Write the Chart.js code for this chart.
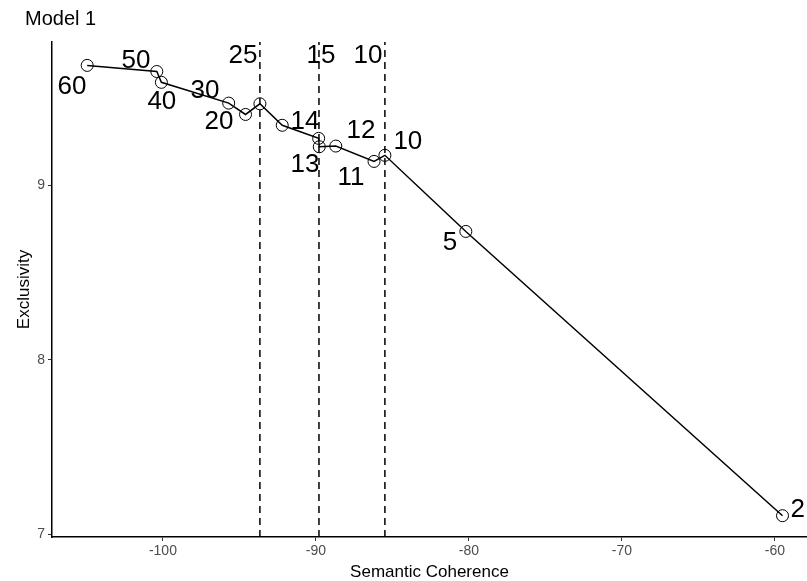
<!DOCTYPE html>
<html>
<head>
<meta charset="utf-8">
<script src="https://cdn.jsdelivr.net/npm/chart.js@4"></script>
<style>
  html, body { margin: 0; padding: 0; background: #fff; }
  #wrap { width: 807px; height: 581px; position: relative; }
</style>
</head>
<body>
<div id="wrap"><canvas id="c" width="807" height="581"></canvas></div>
<script>
// ---- data ----
const topicCounts = [60, 50, 40, 30, 20, 25, 14, 15, 13, 12, 11, 10, 5, 2];
const semanticCoherence = [-104.95, -100.4, -100.1, -95.7, -94.6, -93.66, -92.2, -89.82, -89.78, -88.7, -86.2, -85.49, -80.2, -59.5];
const exclusivity = [9.686, 9.651, 9.589, 9.47, 9.405, 9.466, 9.343, 9.268, 9.22, 9.224, 9.136, 9.171, 8.735, 7.107];

// labelled points and label anchor (data units)
const pointLabels = ['60', '50', '40', '30', '20', '14', '13', '12', '11', '10', '5', '2'];
const pointLabelX = [-105.95, -101.76, -100.07, -97.25, -96.34, -90.72, -90.72, -87.06, -87.71, -83.99, -81.24, -58.5];
const pointLabelY = [9.566, 9.714, 9.48, 9.543, 9.36, 9.36, 9.114, 9.309, 9.04, 9.251, 8.669, 7.143];

// reference vertical lines
const vlineX = [-93.66, -89.8, -85.49];
const vlineLabels = ['25', '15', '10'];
const vlineLabelX = [-94.77, -89.67, -86.6];
const vlineLabelY = 9.743;

const xTicks = [-100, -90, -80, -70, -60];
const yTicks = [7, 8, 9];
const xRange = [-107.25, -57.9];
const yRange = [6.985, 9.82];

const FONT = '"Liberation Sans", Arial, sans-serif';

// ---- build ----
const pts = semanticCoherence.map((x, i) => ({ x, y: exclusivity[i] }))
  .sort((a, b) => a.x - b.x);

const vlineSets = vlineX.map(x => ({
  data: [{ x, y: yRange[0] }, { x, y: yRange[1] }],
  showLine: true,
  borderColor: '#000',
  borderWidth: 1.5,
  borderDash: [7, 5],
  pointRadius: 0,
  pointHoverRadius: 0
}));

const labelPlugin = {
  id: 'labels',
  afterDatasetsDraw(chart) {
    const { ctx, scales: { x, y } } = chart;
    ctx.save();
    ctx.fillStyle = '#000';
    ctx.textAlign = 'center';
    ctx.textBaseline = 'middle';
    ctx.font = '26px ' + FONT;
    pointLabels.forEach((t, i) => {
      ctx.fillText(t, x.getPixelForValue(pointLabelX[i]), y.getPixelForValue(pointLabelY[i]));
    });
    vlineLabels.forEach((t, i) => {
      ctx.fillText(t, x.getPixelForValue(vlineLabelX[i]), y.getPixelForValue(vlineLabelY));
    });
    ctx.textAlign = 'left';
    ctx.font = '20px ' + FONT;
    ctx.fillText('Model 1', 25, 19);
    ctx.restore();
  }
};

new Chart(document.getElementById('c'), {
  type: 'scatter',
  data: {
    datasets: [
      ...vlineSets,
      {
        data: pts,
        showLine: true,
        borderColor: '#000',
        borderWidth: 1.5,
        pointRadius: 6,
        pointBorderWidth: 1,
        pointBorderColor: '#000',
        pointBackgroundColor: 'rgba(0,0,0,0)',
        pointHoverRadius: 6
      }
    ]
  },
  options: {
    responsive: false,
    animation: false,
    layout: { autoPadding: false, padding: { top: 42, right: 0, left: 0, bottom: 0 } },
    plugins: { legend: { display: false }, tooltip: { enabled: false }, title: { display: false } },
    scales: {
      x: {
        type: 'linear',
        min: xRange[0], max: xRange[1],
        afterBuildTicks: s => { s.ticks = xTicks.map(v => ({ value: v })); },
        afterFit: s => { s.height = 44; s.paddingLeft = 0; s.paddingRight = 0; },
        border: { color: '#000', width: 1.5 },
        grid: { display: true, drawOnChartArea: false, tickLength: 4, color: '#333', tickWidth: 1 },
        ticks: { color: '#4d4d4d', font: { size: 14, family: FONT }, padding: 2 },
        title: { display: true, text: 'Semantic Coherence', color: '#000', font: { size: 17, family: FONT }, padding: { top: 0, bottom: -2 } }
      },
      y: {
        type: 'linear',
        min: yRange[0], max: yRange[1],
        afterBuildTicks: s => { s.ticks = yTicks.map(v => ({ value: v })); },
        afterFit: s => { s.width = 52; s.paddingTop = 0; s.paddingBottom = 0; },
        border: { color: '#000', width: 1.5 },
        grid: { display: true, drawOnChartArea: false, tickLength: 4, color: '#333', tickWidth: 1 },
        ticks: { color: '#4d4d4d', font: { size: 14, family: FONT }, padding: 3 },
        title: { display: true, text: 'Exclusivity', color: '#000', font: { size: 17, family: FONT }, padding: { top: 14, bottom: 0 } }
      }
    }
  },
  plugins: [labelPlugin]
});
</script>
</body>
</html>
